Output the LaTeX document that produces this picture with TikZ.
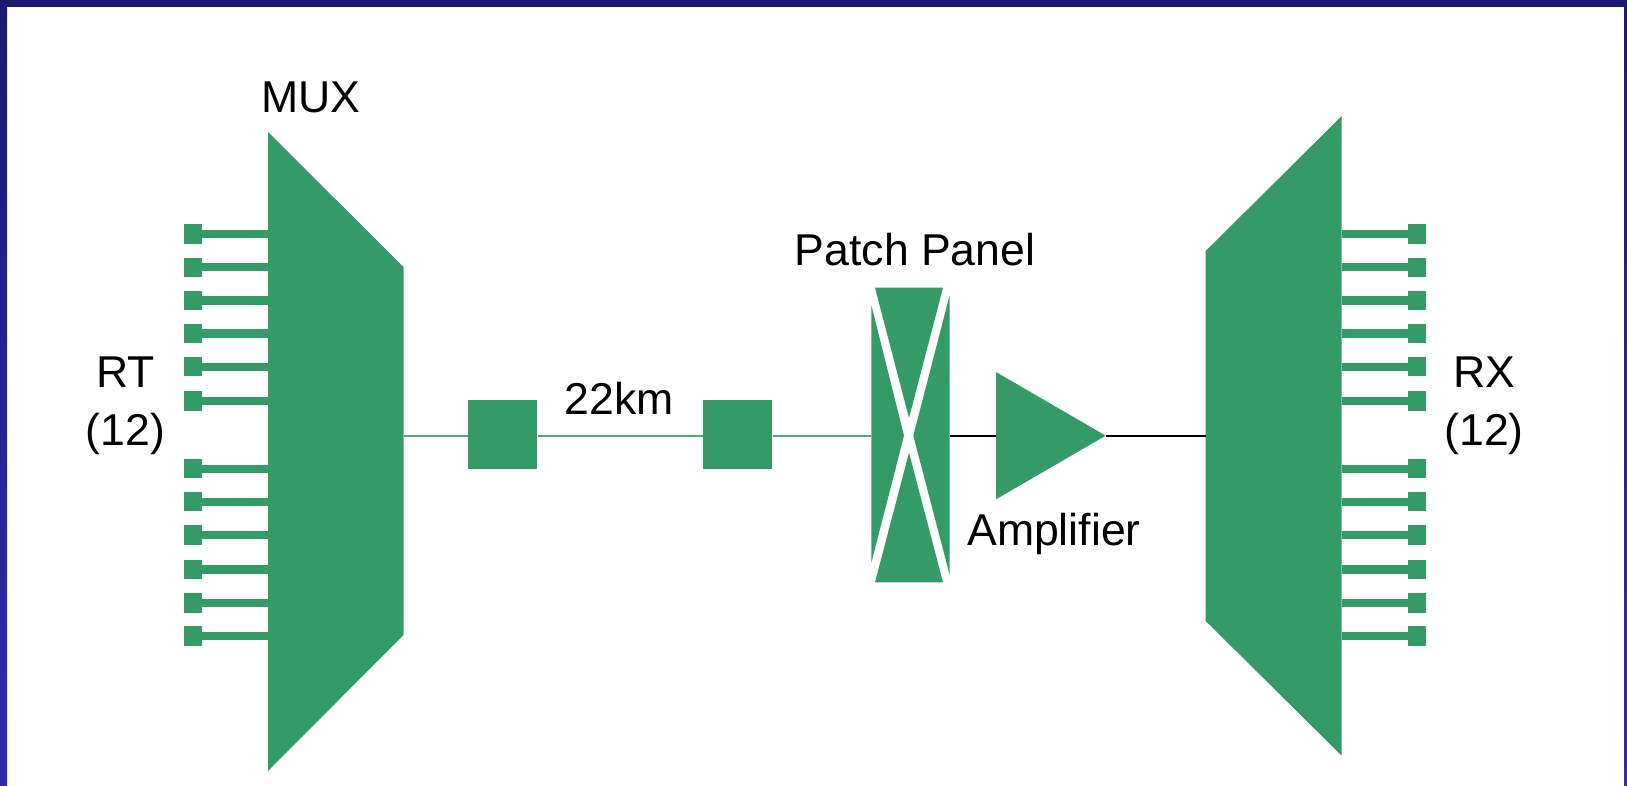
\documentclass[tikz,border=0pt]{standalone}
\usepackage{fontspec}
\setmainfont{Liberation Sans}
\definecolor{muxgreen}{HTML}{349B66}
\definecolor{fibregreen}{HTML}{4CA87A}
\definecolor{frametop}{HTML}{1B1B72}
\definecolor{framebottom}{HTML}{2C2CAD}
\tikzset{
    portbox/.style={fill=muxgreen,inner sep=0pt,minimum width=9.2pt,minimum height=9.6pt},
    splicebox/.style={fill=muxgreen,inner sep=0pt,minimum size=34.7pt},
    portwire/.style={muxgreen,line width=4.2pt},
    fibre/.style={fibregreen,line width=1pt},
    blackfibre/.style={black,line width=1pt},
    label/.style={black,anchor=base,inner sep=0pt,font=\fontsize{22.3}{27}\selectfont}
}
\begin{document}
\begin{tikzpicture}[x=0.5pt,y=-0.5pt]
    \useasboundingbox (0,0) rectangle (1627,786);
\fill[white] (0,0) rectangle (1627,786);
\shade[top color=frametop,bottom color=framebottom] (0,0) rectangle (7,786);
\shade[top color=frametop,bottom color=framebottom] (1624,0) rectangle (1627,786);
\fill[frametop] (0,0) rectangle (1627,7);
\coordinate (muxout) at (403.5,435.7);
\coordinate (demuxin) at (1205.7,435.7);
\coordinate (muxedge) at (268,435.7);
\coordinate (demuxedge) at (1341.7,435.7);
\coordinate (patchin) at (871.3,435.7);
\coordinate (patchout) at (949.7,435.7);
\coordinate (ampin) at (996,435.7);
\coordinate (ampout) at (1105.7,435.7);
\foreach \row/\ypos in {1/234,2/267.2,3/300.4,4/333.6,5/366.8,6/401,7/468.7,8/501.7,9/535,10/569.3,11/603,12/636}{
    \node[portbox] (rt\row) at (192.7,\ypos) {};
    \node[portbox] (rx\row) at (1417,\ypos) {};
    \draw[portwire] (rt\row.center) -- (rt\row -| muxedge);
    \draw[portwire] (rx\row.center) -- (rx\row -| demuxedge);
}
\fill[muxgreen] (268,132)--(403.5,267)--(403.5,635)--(268,771)--cycle;
\fill[muxgreen] (1341.7,116)--(1205.7,251)--(1205.7,621)--(1341.7,755.7)--cycle;
\node[splicebox] (splicea) at (502.7,434.7) {};
\node[splicebox] (spliceb) at (737.7,434.7) {};
\draw[fibre] (muxout)--(muxout -| splicea.west);
\draw[fibre] (muxout -| splicea.east)--(muxout -| spliceb.west);
\draw[fibre] (muxout -| spliceb.east)--(patchin);
\fill[muxgreen] (875,287.7)--(943,287.7)--(909,418)--cycle;
\fill[muxgreen] (875,582.3)--(943,582.3)--(909,452.7)--cycle;
\fill[muxgreen] (871.3,305)--(871.3,563)--(904,435.7)--cycle;
\fill[muxgreen] (949.7,295)--(949.7,575)--(913.3,435.7)--cycle;
\fill[muxgreen] (ampin |- 0,372)--(ampin |- 0,499.3)--(ampout)--cycle;
\draw[blackfibre] (patchout)--(ampin);
\draw[blackfibre] (ampout)--(demuxin);
\node[label] (muxlabel) at (310.7,113) {MUX};
\node[label] (patchlabel) at (915,265.6) {Patch Panel};
\node[label] (kmlabel) at (619,414.3) {22km};
\node[label] (amplabel) at (1054,545) {Amplifier};
\node[label] (rtlabel) at (125.5,387) {RT};
\node[label] (rtcount) at (125.5,445) {(12)};
\node[label] (rxlabel) at (1484,387) {RX};
\node[label] (rxcount) at (1484,445) {(12)};
\end{tikzpicture}
\end{document}
